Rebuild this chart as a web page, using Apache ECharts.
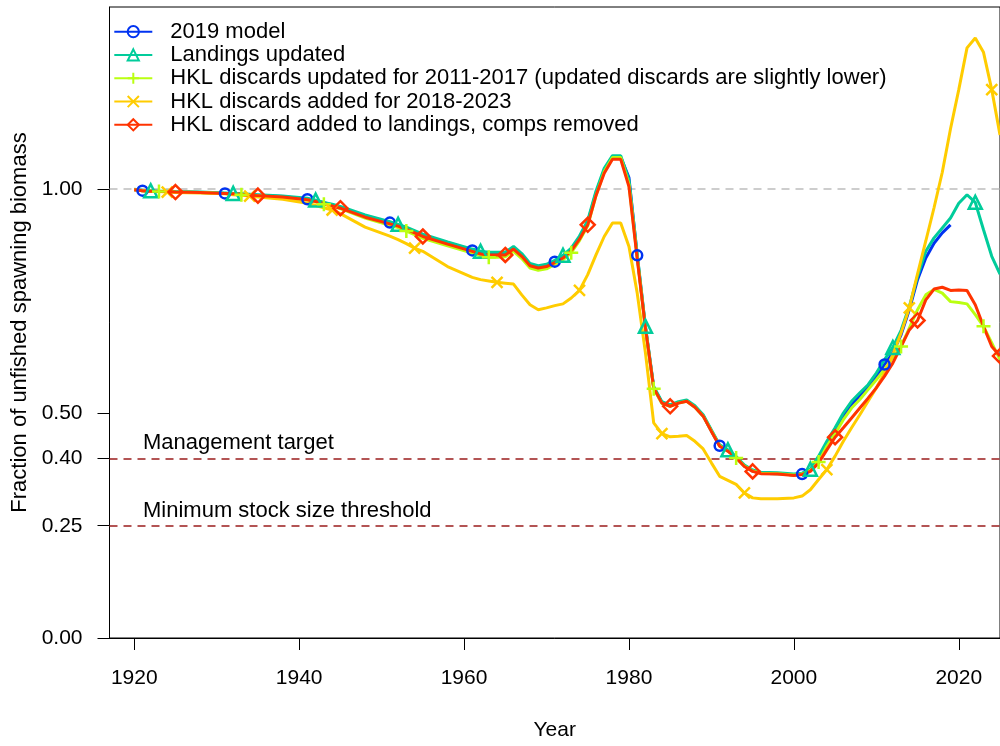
<!DOCTYPE html>
<html>
<head>
<meta charset="utf-8">
<script src="https://cdn.jsdelivr.net/npm/echarts@6/dist/echarts.min.js"></script>
<style>
  html, body { margin: 0; padding: 0; background: #fff; }
  #chart { width: 1000px; height: 746px; }
</style>
</head>
<body>
<div id="chart"></div>
<script>
const years = [
  1920, 1921, 1922, 1923, 1924, 1925, 1928, 1931, 1932, 1933, 1934, 1935, 1938,
  1941, 1942, 1943, 1944, 1945, 1948, 1951, 1952, 1953, 1954, 1955, 1958,
  1961, 1962, 1963, 1964, 1965, 1966, 1967, 1968, 1969, 1970,
  1971, 1972, 1973, 1974, 1975, 1976, 1977, 1978, 1979, 1980,
  1981, 1982, 1983, 1984, 1985, 1986, 1987, 1988, 1989, 1990,
  1991, 1992, 1993, 1994, 1995, 1996, 1998,
  2000, 2001, 2002, 2003, 2004, 2005, 2006, 2007, 2008, 2009,
  2010, 2011, 2012, 2013, 2014, 2015, 2016, 2017, 2018, 2019,
  2020, 2021, 2022, 2023, 2024, 2025
]

const model2019 = [
  0.998, 0.996, 0.995, 0.994, 0.994, 0.993, 0.992, 0.990, 0.989, 0.988, 0.987, 0.986, 0.983,
  0.977, 0.974, 0.969, 0.964, 0.959, 0.940, 0.925, 0.919, 0.913, 0.905, 0.897, 0.880,
  0.863, 0.858, 0.856, 0.856, 0.856, 0.869, 0.853, 0.831, 0.826, 0.829,
  0.838, 0.849, 0.865, 0.892, 0.926, 0.991, 1.042, 1.071, 1.071, 1.025,
  0.852, 0.692, 0.558, 0.524, 0.517, 0.524, 0.528, 0.515, 0.495, 0.461,
  0.428, 0.417, 0.402, 0.383, 0.372, 0.367, 0.366,
  0.363, 0.365, 0.374, 0.400, 0.432, 0.462, 0.495, 0.520, 0.540, 0.558,
  0.583, 0.609, 0.635, 0.675, 0.731, 0.798, 0.846, 0.879, 0.902, 0.920,
  null, null, null, null, null, null
]

const landingsUpdated = [
  0.999, 0.997, 0.996, 0.995, 0.995, 0.994, 0.993, 0.991, 0.990, 0.989, 0.988, 0.987, 0.984,
  0.979, 0.975, 0.970, 0.966, 0.961, 0.942, 0.927, 0.921, 0.915, 0.907, 0.899, 0.882,
  0.866, 0.861, 0.859, 0.859, 0.859, 0.872, 0.856, 0.834, 0.829, 0.832,
  0.841, 0.852, 0.868, 0.895, 0.930, 0.995, 1.046, 1.074, 1.074, 1.020,
  0.855, 0.694, 0.560, 0.526, 0.519, 0.526, 0.530, 0.517, 0.497, 0.463,
  0.430, 0.419, 0.404, 0.385, 0.374, 0.369, 0.368,
  0.365, 0.367, 0.376, 0.405, 0.438, 0.468, 0.501, 0.527, 0.546, 0.564,
  0.590, 0.620, 0.647, 0.685, 0.738, 0.805, 0.861, 0.891, 0.913, 0.935,
  0.968, 0.987, 0.970, 0.909, 0.850, 0.810
]

const hklUpdated = [
  0.998, 0.996, 0.995, 0.994, 0.994, 0.993, 0.992, 0.990, 0.989, 0.987, 0.986, 0.985, 0.981,
  0.975, 0.971, 0.966, 0.961, 0.956, 0.935, 0.919, 0.914, 0.906, 0.898, 0.890, 0.873,
  0.857, 0.851, 0.848, 0.848, 0.849, 0.861, 0.845, 0.824, 0.819, 0.822,
  0.832, 0.842, 0.858, 0.885, 0.918, 0.985, 1.038, 1.070, 1.070, 1.010,
  0.848, 0.690, 0.555, 0.522, 0.516, 0.523, 0.527, 0.514, 0.494, 0.461,
  0.428, 0.416, 0.401, 0.383, 0.372, 0.367, 0.366,
  0.363, 0.365, 0.373, 0.392, 0.427, 0.455, 0.486, 0.512, 0.531, 0.553,
  0.575, 0.598, 0.624, 0.649, 0.690, 0.731, 0.764, 0.776, 0.768, 0.749,
  0.747, 0.744, 0.720, 0.694, 0.657, 0.620
]

const hklAdded = [
  0.998, 0.996, 0.995, 0.994, 0.993, 0.992, 0.991, 0.989, 0.987, 0.986, 0.984, 0.982, 0.977,
  0.968, 0.963, 0.958, 0.953, 0.945, 0.915, 0.895, 0.887, 0.878, 0.868, 0.861, 0.827,
  0.803, 0.798, 0.795, 0.792, 0.790, 0.788, 0.764, 0.742, 0.731, 0.735,
  0.740, 0.744, 0.757, 0.774, 0.809, 0.853, 0.894, 0.924, 0.924, 0.872,
  0.768, 0.635, 0.479, 0.455, 0.448, 0.449, 0.451, 0.438, 0.421, 0.390,
  0.360, 0.351, 0.342, 0.323, 0.312, 0.310, 0.310,
  0.312, 0.316, 0.330, 0.353, 0.375, 0.405, 0.438, 0.468, 0.497, 0.527,
  0.557, 0.590, 0.631, 0.679, 0.735, 0.811, 0.884, 0.958, 1.037, 1.134,
  1.221, 1.314, 1.336, 1.304, 1.221, 1.120
]

const hklToLandings = [
  0.998, 0.996, 0.995, 0.994, 0.994, 0.993, 0.992, 0.990, 0.989, 0.988, 0.986, 0.985, 0.982,
  0.976, 0.972, 0.967, 0.962, 0.957, 0.937, 0.922, 0.917, 0.910, 0.902, 0.894, 0.877,
  0.861, 0.855, 0.853, 0.853, 0.853, 0.866, 0.850, 0.829, 0.824, 0.827,
  0.836, 0.846, 0.862, 0.888, 0.920, 0.985, 1.035, 1.066, 1.066, 1.005,
  0.845, 0.690, 0.557, 0.523, 0.516, 0.523, 0.527, 0.514, 0.494, 0.460,
  0.427, 0.416, 0.401, 0.382, 0.371, 0.366, 0.365,
  0.362, 0.364, 0.371, 0.390, 0.419, 0.447, 0.468, 0.490, 0.512, 0.534,
  0.557, 0.583, 0.612, 0.649, 0.686, 0.707, 0.753, 0.777, 0.781, 0.774,
  0.775, 0.774, 0.742, 0.694, 0.649, 0.628
]

const xTicks = [1920, 1940, 1960, 1980, 2000, 2020]
const yTicks = [0, 0.25, 0.4, 0.5, 1.0]

const FONT = "'Liberation Sans', Arial, sans-serif"

// name, values, colour, symbol, size, first marker year (then every 10 years)
const seriesDefs = [
  ['2019 model', model2019, '#0033F1', 'circle', 10, 1921],
  ['Landings updated', landingsUpdated, '#01CC9B', 'triangle', 13, 1922],
  ['HKL discards updated for 2011-2017 (updated discards are slightly lower)', hklUpdated, '#BAFF11', 'path://M5,0L5,10M0,5L10,5', 14, 1923],
  ['HKL discards added for 2018-2023', hklAdded, '#FFCC00', 'path://M0,0L10,10M10,0L0,10', 11, 1924],
  ['HKL discard added to landings, comps removed', hklToLandings, '#FF3300', 'diamond', 14, 1925],
]

const series = seriesDefs.map(([name, vals, color, symbol, size, first], idx) => {
  const data = []
  years.forEach((y, i) => {
    if (vals[i] == null) return
    const isMarker = y >= first && (y - first) % 10 === 0
    const item = { value: [y, vals[i]] }
    if (!isMarker) item.symbol = 'none'
    data.push(item)
  })
  const s = {
    name: name,
    type: 'line',
    data: data,
    symbol: symbol,
    symbolSize: size,
    showSymbol: true,
    showAllSymbol: true,
    lineStyle: { color: color, width: 3 },
    itemStyle: { color: 'transparent', borderColor: color, borderWidth: 2.5 },
    emphasis: { disabled: true },
    animation: false,
  }
  if (idx === 0) {
    s.markLine = {
      silent: true,
      z: 1,
      symbol: ['none', 'none'],
      data: [
        { yAxis: 1, lineStyle: { color: '#bdbdbd', width: 1.5, type: [8, 6] }, label: { show: false } },
        { yAxis: 0.4, name: 'Management target' },
        { yAxis: 0.25, name: 'Minimum stock size threshold' },
      ],
      lineStyle: { color: '#9b1c1c', width: 1.5, type: [8, 6] },
      label: {
        show: true,
        position: 'insideStartTop',
        distance: [33.5, 4],
        formatter: '{b}',
        color: '#000',
        fontSize: 22,
        fontFamily: FONT,
      },
    }
  }
  return s
})

const chart = echarts.init(document.getElementById('chart'))
chart.setOption({
  animation: false,
  backgroundColor: '#fff',
  textStyle: { fontFamily: FONT },
  grid: {
    left: 109.5,
    right: -4.5,
    top: 7,
    bottom: 107.5,
    show: true,
    borderColor: '#000',
    borderWidth: 1,
    containLabel: false,
  },
  legend: {
    orient: 'vertical',
    left: 113.3,
    top: 20,
    padding: 0,
    itemGap: 0,
    itemWidth: 38,
    itemHeight: 14,
    selectedMode: false,
    textStyle: {
      fontSize: 22,
      fontFamily: FONT,
      color: '#000',
      lineHeight: 23.3,
      padding: [0, 0, 0, 13],
    },
    data: seriesDefs.map(d => d[0]),
  },
  xAxis: {
    type: 'value',
    min: 1917,
    max: 2025,
    name: 'Year',
    nameLocation: 'middle',
    nameGap: 82,
    nameTextStyle: { fontSize: 21, color: '#000', fontFamily: FONT },
    axisLine: { show: true, lineStyle: { color: '#000', width: 1 } },
    axisTick: { show: true, inside: false, length: 12, customValues: xTicks, lineStyle: { color: '#000', width: 1 } },
    axisLabel: {
      customValues: xTicks,
      margin: 30,
      fontSize: 21,
      color: '#000',
      fontFamily: FONT,
      formatter: v => String(v),
    },
    splitLine: { show: false },
  },
  yAxis: {
    type: 'value',
    min: 0,
    max: 1.405,
    name: 'Fraction of unfished spawning biomass',
    nameLocation: 'middle',
    nameGap: 78,
    nameTextStyle: { fontSize: 22, color: '#000', fontFamily: FONT },
    axisLine: { show: true, lineStyle: { color: '#000', width: 1 } },
    axisTick: { show: true, inside: false, length: 12, customValues: yTicks, lineStyle: { color: '#000', width: 1 } },
    axisLabel: {
      customValues: yTicks,
      margin: 27,
      fontSize: 21,
      color: '#000',
      fontFamily: FONT,
      formatter: v => v.toFixed(2),
    },
    splitLine: { show: false },
  },
  series: series,
})
</script>
</body>
</html>
